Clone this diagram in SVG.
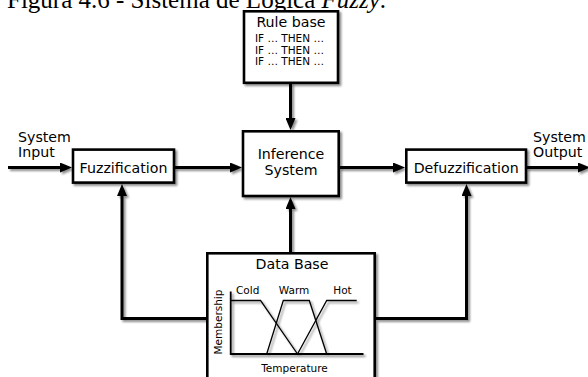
<svg xmlns="http://www.w3.org/2000/svg" width="588" height="377" viewBox="0 0 588 377">
  <style>
    .box { fill: #ffffff; stroke: #000000; stroke-width: 2.6; }
    .lbl { font-family: "DejaVu Sans", "Liberation Sans", sans-serif; font-size: 14.2px; fill: #000000; }
    .sm  { font-family: "DejaVu Sans", "Liberation Sans", sans-serif; font-size: 10.5px; fill: #000000; }
    .wire { fill: none; stroke: #000000; stroke-width: 3; }
    .axis { fill: none; stroke: #000000; stroke-width: 1.8; }
    .curve { fill: none; stroke: #000000; stroke-width: 1.3; }
    .title { font-family: "Liberation Serif", "Times New Roman", serif; font-size: 25px; fill: #000000; }
  </style>
  <defs>
    <filter id="shadow" x="-20%" y="-20%" width="140%" height="140%">
      <feGaussianBlur in="SourceAlpha" stdDeviation="1.2"/>
      <feOffset dx="1.5" dy="1.5" result="blur"/>
      <feComponentTransfer><feFuncA type="linear" slope="0.45"/></feComponentTransfer>
      <feMerge><feMergeNode/><feMergeNode in="SourceGraphic"/></feMerge>
    </filter>
    <marker id="arrow" viewBox="0 0 12 10" refX="6" refY="5" markerWidth="12" markerHeight="10" markerUnits="userSpaceOnUse" orient="auto">
      <path d="M0,0 L12,5 L0,10 z" fill="#000000"/>
    </marker>
  </defs>

  <rect width="588" height="377" fill="#ffffff"/>

  <!-- caption, partly hidden behind the rule base box -->
  <text class="title" x="7" y="7.5">Figura 4.6 - Sistema de Lógica <tspan font-style="italic">Fuzzy</tspan>.</text>

  <!-- connectors -->
  <g id="connectors" filter="url(#shadow)">
    <path class="wire" d="M8,167.5 H66" marker-end="url(#arrow)"/>
    <path class="wire" d="M174,167.5 H236" marker-end="url(#arrow)"/>
    <path class="wire" d="M339,167.5 H399" marker-end="url(#arrow)"/>
    <path class="wire" d="M526,167.5 H584" marker-end="url(#arrow)"/>
    <path class="wire" d="M290.5,83 V124" marker-end="url(#arrow)"/>
    <path class="wire" d="M290.5,252 V203" marker-end="url(#arrow)"/>
    <path class="wire" d="M206,318.5 H122 V190" marker-end="url(#arrow)"/>
    <path class="wire" d="M376,318.5 H466.5 V190" marker-end="url(#arrow)"/>
  </g>

  <!-- free labels at the ends of the chain -->
  <g id="system-input">
    <text class="lbl" x="18" y="142">System</text>
    <text class="lbl" x="18" y="156.5">Input</text>
  </g>
  <g id="system-output">
    <text class="lbl" x="533" y="142">System</text>
    <text class="lbl" x="533" y="156.5">Output</text>
  </g>

  <g id="rule-base">
    <rect class="box" x="244" y="11.3" width="94" height="71.5" filter="url(#shadow)"/>
    <text class="lbl" x="291" y="27" text-anchor="middle">Rule base</text>
    <text class="sm" x="255" y="42">IF … THEN …</text>
    <text class="sm" x="255" y="53.7">IF … THEN …</text>
    <text class="sm" x="255" y="65.4">IF … THEN …</text>
  </g>

  <g id="fuzzification">
    <rect class="box" x="73" y="149.6" width="101" height="33" filter="url(#shadow)"/>
    <text class="lbl" x="123.5" y="172.5" text-anchor="middle">Fuzzification</text>
  </g>

  <g id="inference-system">
    <rect class="box" x="243" y="131.3" width="95.7" height="64.7" filter="url(#shadow)"/>
    <text class="lbl" x="291" y="159.3" text-anchor="middle">Inference</text>
    <text class="lbl" x="291" y="175" text-anchor="middle">System</text>
  </g>

  <g id="defuzzification">
    <rect class="box" x="406.3" y="149.6" width="119.7" height="33" filter="url(#shadow)"/>
    <text class="lbl" x="466.2" y="172.5" text-anchor="middle">Defuzzification</text>
  </g>

  <g id="data-base">
    <rect class="box" x="207.3" y="253.3" width="167.4" height="140" filter="url(#shadow)"/>
    <text class="lbl" x="292" y="269" text-anchor="middle">Data Base</text>
    <!-- membership functions over temperature -->
    <g filter="url(#shadow)">
      <path class="axis" d="M230.7,291.5 V354 H363.5"/>
      <path class="curve" d="M230.7,300.5 H260.5 L297.5,354"/>
      <path class="curve" d="M266.7,354 L283.3,300.5 H309.3 L326.7,354"/>
      <path class="curve" d="M297.5,354 L326.7,300.5 H356.7"/>
    </g>
    <text class="sm" x="236" y="294">Cold</text>
    <text class="sm" x="294" y="294" text-anchor="middle">Warm</text>
    <text class="sm" x="342.5" y="294" text-anchor="middle">Hot</text>
    <text class="sm" text-anchor="middle" transform="translate(221.5,322) rotate(-90)">Membership</text>
    <text class="sm" x="294.5" y="372" text-anchor="middle">Temperature</text>
  </g>
</svg>
